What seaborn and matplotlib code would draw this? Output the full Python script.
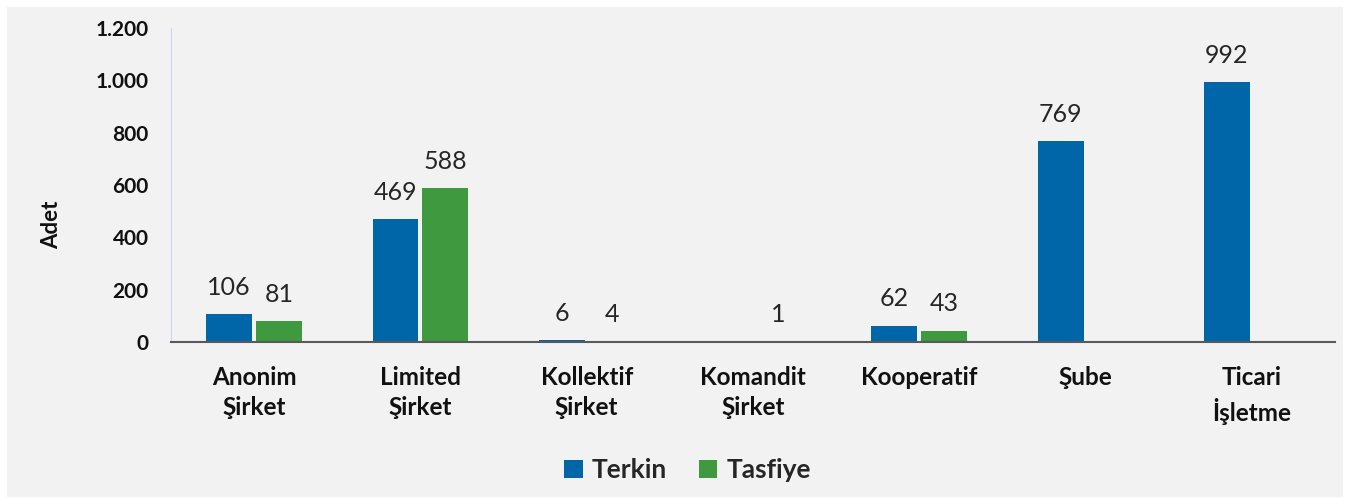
import numpy as np
import pandas as pd
import seaborn as sns
import matplotlib.pyplot as plt
from matplotlib.patches import Rectangle
from matplotlib.ticker import FuncFormatter

# categories and series values
categories = ['Anonim\nŞirket', 'Limited\nŞirket', 'Kollektif\nŞirket', 'Komandit\nŞirket',
              'Kooperatif', 'Şube', 'Ticari\nİşletme']
terkin = [106, 469, 6, 0, 62, 769, 992]
tasfiye = [81, 588, 4, 1, 43, 0, 0]
series_names = ['Terkin', 'Tasfiye']
y_ticks = [0, 200, 400, 600, 800, 1000, 1200]

df = pd.DataFrame({
    'Tür': categories * 2,
    'Seri': [series_names[0]] * len(categories) + [series_names[1]] * len(categories),
    'Adet': terkin + tasfiye,
})

sns.set_style('white')
plt.rcParams['font.family'] = ['Lato', 'DejaVu Sans']

bg = '#f2f2f2'
fig = plt.figure(figsize=(13.48, 4.98), dpi=100)
fig.patches.append(Rectangle((7 / 1348, 1 - 497 / 498), 1336 / 1348, 490 / 498,
                             transform=fig.transFigure, facecolor=bg, edgecolor='none', zorder=-10))
ax = fig.add_axes([171 / 1348, 1 - 342 / 498, (1335 - 171) / 1348, (342 - 28) / 498])
ax.set_facecolor(bg)

sns.barplot(data=df, x='Tür', y='Adet', hue='Seri', palette=['#0066a7', '#3f993f'],
            saturation=1, width=0.6, gap=0.08, linewidth=0, ax=ax)

for cont in ax.containers:
    labels = [f'{b.get_height():.0f}' if b.get_height() > 0 else '' for b in cont]
    ax.bar_label(cont, labels=labels, padding=11, fontsize=18, color='#262626')

ax.set_ylim(0, 1200)
ax.set_yticks(y_ticks)
ax.yaxis.set_major_formatter(FuncFormatter(lambda v, p: f'{v:,.0f}'.replace(',', '.')))
ax.tick_params(axis='y', length=0, pad=16, labelsize=15, labelcolor='#111111')
ax.tick_params(axis='x', length=0, pad=17, labelsize=17.5, labelcolor='#111111')
for t in ax.get_xticklabels() + ax.get_yticklabels():
    t.set_fontweight('bold')
for t in ax.get_xticklabels():
    t.set_linespacing(1.4)
ax.set_xlabel('')
ax.set_ylabel('Adet', fontsize=16, fontweight='bold', labelpad=24, color='#111111')
ax.yaxis.label.set_y(0.373)

for s in ['top', 'right']:
    ax.spines[s].set_visible(False)
ax.spines['left'].set_color('#c6d6ec')
ax.spines['left'].set_linewidth(0.8)
ax.spines['bottom'].set_color('#595959')
ax.spines['bottom'].set_linewidth(1.5)

sns.move_legend(ax, 'center', bbox_to_anchor=(0.51, 0.056), bbox_transform=fig.transFigure,
                ncol=2, frameon=False, title=None, handlelength=0.7, handleheight=0.7,
                handletextpad=0.35, columnspacing=1.2, prop={'size': 19, 'weight': 'bold'})

fig.savefig('out.png', dpi=100, facecolor='white')
